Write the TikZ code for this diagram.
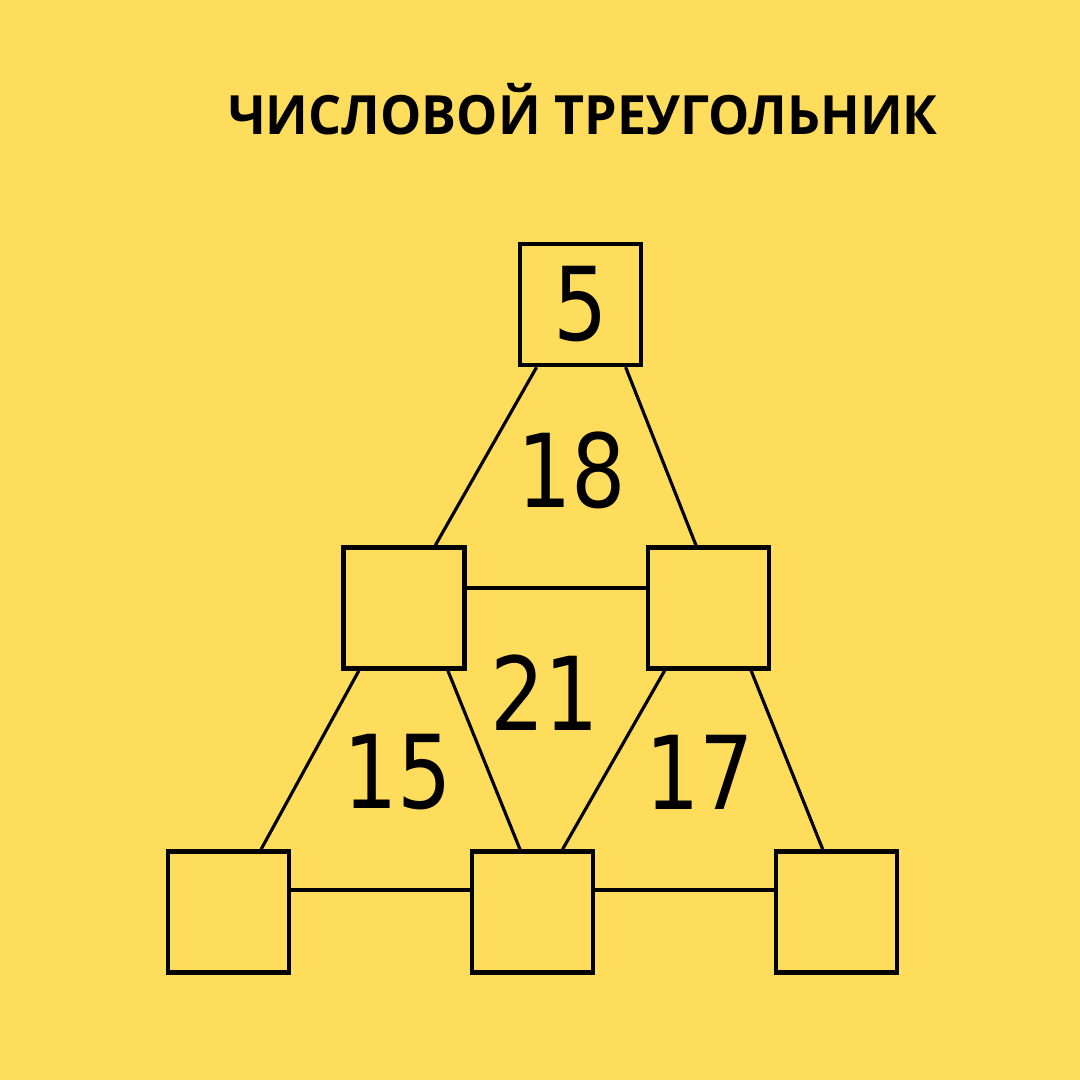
\documentclass[tikz,border=0pt]{standalone}
\usepackage{fontspec}
\usetikzlibrary{calc}
\newfontfamily\titlefont[FakeStretch=0.96]{Open Sans}
\newfontfamily\numfont[FakeStretch=0.84]{DejaVu Sans}
\definecolor{bgyellow}{HTML}{FFDD5C}
\newcommand{\link}[4]
{
	\draw[edge] ($(#1.south west)!#2!(#1.south east)$) -- ($(#3.north west)!#4!(#3.north east)$)
}

\begin{document}
\begin{tikzpicture}[
	box/.style={shape=rectangle, draw=black, line width=1.25pt,
		minimum width=1.21cm, minimum height=1.21cm, inner sep=0pt,
		font=\numfont\fontsize{29}{30}\selectfont},
	edge/.style={draw=black, line width=0.9pt},
	bar/.style={draw=black, line width=1.1pt},
	num/.style={font=\numfont\fontsize{29}{30}\selectfont, inner sep=0pt}]

	\fill[bgyellow] (0, 0) rectangle (10.8, 10.8);
	\node[font=\titlefont\bfseries\fontsize{15.4}{18}\selectfont] at (5.83, 9.71) (title){ЧИСЛОВОЙ ТРЕУГОЛЬНИК};

	\node[box] at (5.805, 7.755) (T){5};
	\node[box] at (4.04, 4.72) (ML){};
	\node[box] at (7.085, 4.72) (MR){};
	\node[box] at (2.285, 1.68) (BL){};
	\node[box] at (5.325, 1.68) (BM){};
	\node[box] at (8.365, 1.68) (BR){};

	\node[num] at (5.72, 6.10) (n18){18};
	\node[num] at (5.45, 3.87) (n21){21};
	\node[num] at (3.98, 3.08) (n15){15};
	\node[num] at (7.00, 3.08) (n17){17};

	\link{T}{0.15}{ML}{0.75};
	\link{T}{0.86}{MR}{0.40};
	\link{ML}{0.14}{BL}{0.76};
	\link{ML}{0.85}{BM}{0.40};
	\link{MR}{0.15}{BM}{0.74};
	\link{MR}{0.84}{BR}{0.39};
	\draw[bar] ([yshift=2mm]ML.east) -- ([yshift=2mm]MR.west);
	\draw[bar] ([yshift=2.2mm]BL.east) -- ([yshift=2.2mm]BM.west);
	\draw[bar] ([yshift=2.2mm]BM.east) -- ([yshift=2.2mm]BR.west);
\end{tikzpicture}
\end{document}
